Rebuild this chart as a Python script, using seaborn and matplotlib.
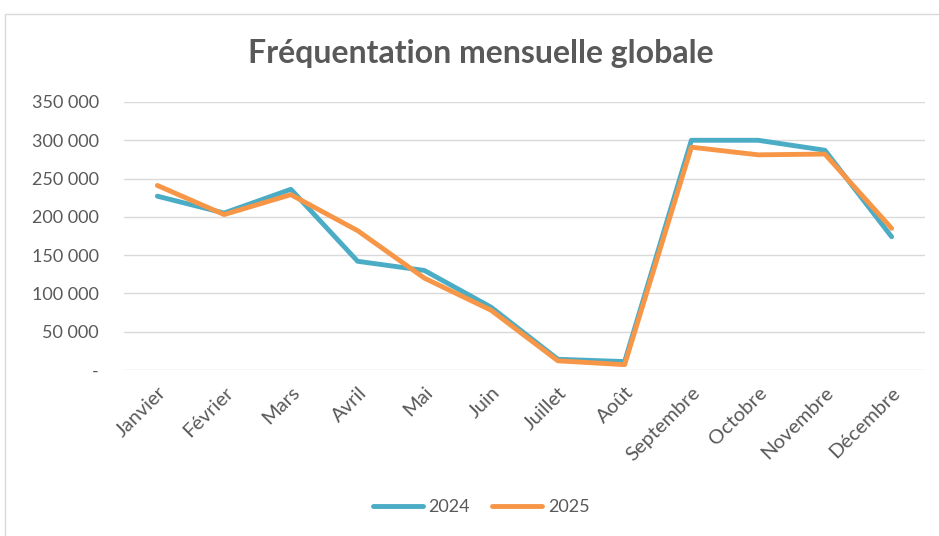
import pandas as pd
import matplotlib.pyplot as plt
import seaborn as sns
from matplotlib.patches import Rectangle
from matplotlib.ticker import FuncFormatter

sns.set_theme(style="white")
plt.rcParams['font.family'] = ['Lato', 'DejaVu Sans']

months = ["Janvier", "Février", "Mars", "Avril", "Mai", "Juin", "Juillet",
          "Août", "Septembre", "Octobre", "Novembre", "Décembre"]
visits_2024 = [227000, 205000, 236000, 142000, 130000, 82000, 14000,
               11000, 300000, 300000, 287000, 174000]
visits_2025 = [241000, 203000, 229000, 182000, 120000, 78000, 12000,
               7000, 291000, 281000, 282000, 185000]
years = ["2024", "2025"]
colors = {"2024": "#4BACC6", "2025": "#F79646"}

df = pd.concat([
    pd.DataFrame({"mois": months, "visiteurs": visits_2024, "annee": "2024"}),
    pd.DataFrame({"mois": months, "visiteurs": visits_2025, "annee": "2025"}),
], ignore_index=True)

fig = plt.figure(figsize=(9.39, 5.36), dpi=100)
ax = fig.add_axes([124 / 939, 1 - 370 / 536, (925 - 124) / 939, (370 - 102) / 536])

sns.lineplot(data=df, x="mois", y="visiteurs", hue="annee", hue_order=years,
             palette=colors, linewidth=3.5, sort=False, ax=ax)

ax.set_ylim(0, 350000)
ax.set_xlim(-0.5, len(months) - 0.5)
ax.set_yticks(range(0, 350001, 50000))


def fmt(v, pos):
    if v == 0:
        return "-"
    return f"{int(v):,}".replace(",", " ")


ax.yaxis.set_major_formatter(FuncFormatter(fmt))
ax.grid(axis="y", color="#d9d9d9", linewidth=1)
ax.set_axisbelow(True)
for s in ax.spines.values():
    s.set_visible(False)
ax.tick_params(axis="y", length=0, colors="#595959", labelsize=13, pad=18)
ax.tick_params(axis="x", length=0, colors="#595959", labelsize=14.5, pad=10)
plt.setp(ax.get_xticklabels(), rotation=45, ha="right", rotation_mode="anchor")
ax.set_xlabel("")
ax.set_ylabel("")

fig.text(481 / 939, 1 - 53 / 536, "Fréquentation mensuelle globale",
         ha="center", va="center", fontsize=23, fontweight="bold", color="#595959")

ax.legend(loc="center", bbox_to_anchor=(481 / 939, 1 - 507 / 536), bbox_transform=fig.transFigure,
          ncol=2, frameon=False, fontsize=13, handlelength=2.8, columnspacing=1.2,
          labelcolor="#595959", handletextpad=0.3)

fig.patches.append(Rectangle((5 / 939, -0.01), 1, 1 - 14 / 536 + 0.01, transform=fig.transFigure,
                             fill=False, edgecolor="#d9d9d9", linewidth=1))

fig.savefig("out.png", dpi=100)
